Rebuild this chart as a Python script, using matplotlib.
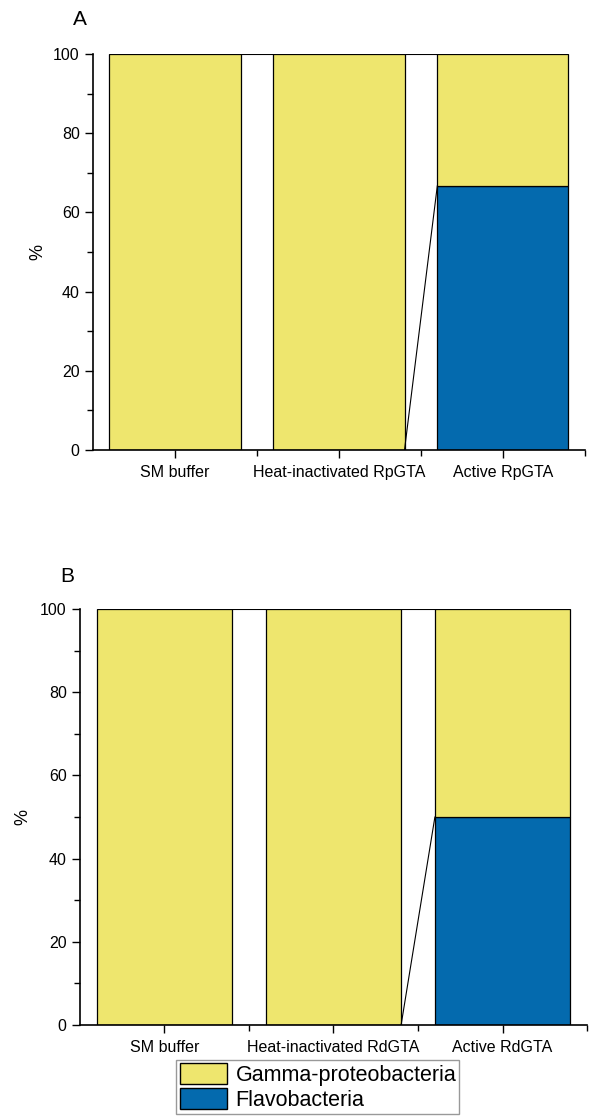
import numpy as np
import matplotlib.pyplot as plt
from matplotlib.ticker import MultipleLocator, FixedLocator

plt.rcParams['font.family'] = ['Liberation Sans', 'DejaVu Sans']

# data (percent of community)
cats_a = ['SM buffer', 'Heat-inactivated RpGTA', 'Active RpGTA']
cats_b = ['SM buffer', 'Heat-inactivated RdGTA', 'Active RdGTA']
flavo_a = [0, 0, 66.7]
gamma_a = [100, 100, 33.3]
flavo_b = [0, 0, 50]
gamma_b = [100, 100, 50]

series_names = ['Gamma-proteobacteria', 'Flavobacteria']
yellow = '#EEE66E'
blue = '#046AAE'
bar_w = 0.8


def stacked_panel(ax, cats, flavo, gamma):
    x = np.arange(1, len(cats) + 1)
    flavo = np.array(flavo, dtype=float)
    gamma = np.array(gamma, dtype=float)
    ax.bar(x, flavo, width=bar_w, color=blue, edgecolor='black', linewidth=0.9)
    ax.bar(x, gamma, width=bar_w, bottom=flavo, color=yellow, edgecolor='black', linewidth=0.9)

    # connect lines between the stacked layers (Origin style)
    for tops in (flavo, flavo + gamma):
        for i in range(len(x) - 1):
            ax.plot([x[i] + bar_w / 2, x[i + 1] - bar_w / 2], [tops[i], tops[i + 1]],
                    color='black', lw=0.8, zorder=3)

    ax.set_xlim(0.5, len(cats) + 0.5)
    ax.set_ylim(0, 100)
    ax.set_xticks(x)
    ax.set_xticklabels(cats, fontsize=11.5)
    ax.xaxis.set_minor_locator(FixedLocator(np.arange(1.5, len(cats) + 0.6, 1)))
    ax.yaxis.set_major_locator(MultipleLocator(20))
    ax.yaxis.set_minor_locator(MultipleLocator(10))
    ax.tick_params(axis='both', which='major', length=6, width=1, labelsize=11.5, direction='out')
    ax.tick_params(axis='both', which='minor', length=4, width=1, direction='out')
    ax.tick_params(axis='x', pad=5)
    ax.spines['top'].set_visible(False)
    ax.spines['right'].set_visible(False)
    ax.spines['left'].set_linewidth(1.2)
    ax.spines['bottom'].set_linewidth(1.2)
    ax.set_ylabel('%', fontsize=13)


fig = plt.figure(figsize=(5.92, 11.16), dpi=100)
ax_a = fig.add_axes([0.157, 0.5968, 0.831, 0.3548])
ax_b = fig.add_axes([0.135, 0.0815, 0.8566, 0.3728])

stacked_panel(ax_a, cats_a, flavo_a, gamma_a)
stacked_panel(ax_b, cats_b, flavo_b, gamma_b)
ax_a.yaxis.set_label_coords(-0.094, 0.5)
ax_b.yaxis.set_label_coords(-0.096, 0.5)

# panel letters
fig.text(73 / 592, 1 - 25 / 1116, 'A', fontsize=15, ha='left', va='baseline')
fig.text(60 / 592, 1 - 582 / 1116, 'B', fontsize=15, ha='left', va='baseline')

handles = [plt.Rectangle((0, 0), 1, 1, facecolor=yellow, edgecolor='black', lw=1),
           plt.Rectangle((0, 0), 1, 1, facecolor=blue, edgecolor='black', lw=1)]
leg = fig.legend(handles, series_names, loc='upper center', bbox_to_anchor=(0.537, 1 - 1060 / 1116),
                 fontsize=15.5, handlelength=2.2, handleheight=1.1, labelspacing=0.1,
                 borderpad=0.15, handletextpad=0.4, borderaxespad=0, fancybox=False,
                 framealpha=1)
leg.get_frame().set_edgecolor('#999999')
leg.get_frame().set_linewidth(1)

fig.savefig('out.png', dpi=100)
